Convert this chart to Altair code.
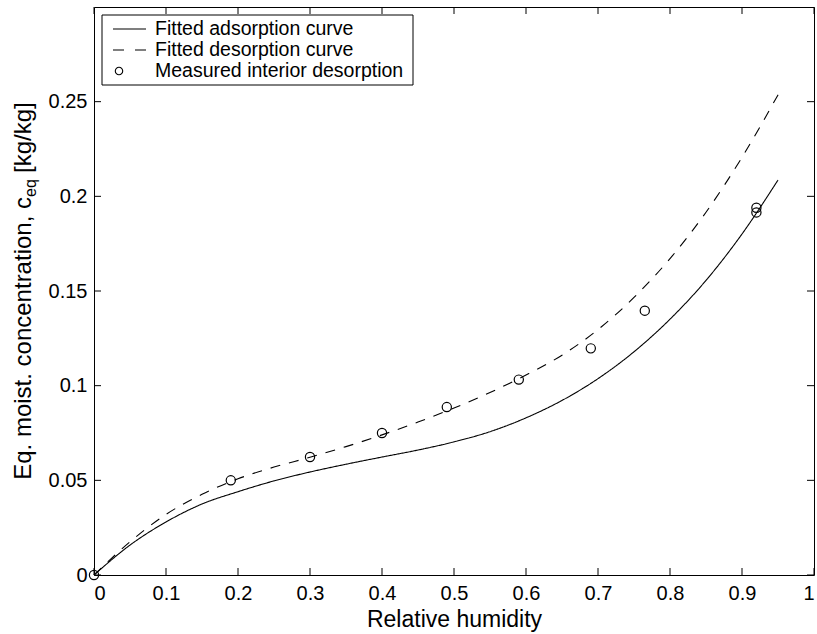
import altair as alt
import pandas as pd

# ---- data ----
rh_fit = [0.00, 0.05, 0.10, 0.15, 0.20, 0.25, 0.30, 0.35, 0.40, 0.45,
          0.50, 0.55, 0.60, 0.65, 0.70, 0.75, 0.80, 0.85, 0.90, 0.95]
adsorption = [0.0, 0.0158, 0.0280, 0.0375, 0.0440, 0.0497, 0.0544, 0.0585, 0.0623, 0.0660,
              0.0703, 0.0757, 0.0830, 0.0922, 0.1037, 0.1179, 0.1351, 0.1556, 0.1801, 0.2086]
desorption = [0.0, 0.0175, 0.0320, 0.0426, 0.0508, 0.0570, 0.0622, 0.0678, 0.0740, 0.0808,
              0.0882, 0.0964, 0.1056, 0.1161, 0.1296, 0.1466, 0.1671, 0.1916, 0.2206, 0.2536]
meas_rh = [0.0, 0.19, 0.30, 0.40, 0.49, 0.59, 0.69, 0.765, 0.92, 0.92]
meas_c = [0.0, 0.0500, 0.0623, 0.0750, 0.0887, 0.1032, 0.1197, 0.1396, 0.1940, 0.1915]
x_ticks = [0, 0.1, 0.2, 0.3, 0.4, 0.5, 0.6, 0.7, 0.8, 0.9, 1]
y_ticks = [0, 0.05, 0.1, 0.15, 0.2, 0.25]
legend_labels = ["Fitted adsorption curve", "Fitted desorption curve", "Measured interior desorption"]
x_title = "Relative humidity"
y_title_main = "Eq. moist. concentration, c"
y_title_sub = "eq"
y_title_unit = "[kg/kg]"

W, H = 720, 568
FONT = "Liberation Sans"
TICK = 7

curves = pd.DataFrame({
    "rh": rh_fit + rh_fit,
    "c": adsorption + desorption,
    "series": [legend_labels[0]] * len(rh_fit) + [legend_labels[1]] * len(rh_fit),
})
meas = pd.DataFrame({"rh": meas_rh, "c": meas_c})
xt = pd.DataFrame({"rh": x_ticks})
yt = pd.DataFrame({"c": y_ticks})
one = pd.DataFrame({"k": [0]})

xs = alt.Scale(domain=[0, 1], nice=False, zero=False)
ys = alt.Scale(domain=[0, 0.3], nice=False, zero=False)
xa = alt.Axis(values=x_ticks, format="~g", title=x_title, labelPadding=8, titlePadding=5)
ya = alt.Axis(values=y_ticks, format="~g", title=None, labelPadding=7)
X = alt.X("rh:Q", scale=xs, axis=xa)
Y = alt.Y("c:Q", scale=ys, axis=ya)

lines = alt.Chart(curves).mark_line(color="black", strokeWidth=1.1, interpolate="monotone").encode(
    x=X, y=Y,
    strokeDash=alt.StrokeDash("series:N", scale=alt.Scale(domain=legend_labels[:2], range=[[1, 0], [10, 9]]),
                              legend=None),
)

points = alt.Chart(meas).mark_point(shape="circle", filled=False, color="black", opacity=1,
                                    size=85, strokeWidth=1.2).encode(x=X, y=Y)

# inward ticks on all four sides
tb = alt.Chart(xt).mark_rule(color="black", strokeWidth=1).encode(
    x=X, y=alt.value(H), y2=alt.value(H - TICK))
tt = alt.Chart(xt).mark_rule(color="black", strokeWidth=1).encode(
    x=X, y=alt.value(0), y2=alt.value(TICK))
tl = alt.Chart(yt).mark_rule(color="black", strokeWidth=1).encode(
    y=Y, x=alt.value(0), x2=alt.value(TICK))
tr = alt.Chart(yt).mark_rule(color="black", strokeWidth=1).encode(
    y=Y, x=alt.value(W), x2=alt.value(W - TICK))

# y title with subscript
TS = 24
J = 190
t1 = alt.Chart(pd.DataFrame({"s": [y_title_main]})).mark_text(
    angle=270, align="right", baseline="alphabetic", font=FONT, fontSize=TS, color="black").encode(
    text="s:N", x=alt.value(-63), y=alt.value(J))
t2 = alt.Chart(pd.DataFrame({"s": [y_title_sub]})).mark_text(
    angle=270, align="left", baseline="alphabetic", font=FONT, fontSize=16, color="black").encode(
    text="s:N", x=alt.value(-58), y=alt.value(J))
t3 = alt.Chart(pd.DataFrame({"s": [y_title_unit]})).mark_text(
    angle=270, align="left", baseline="alphabetic", font=FONT, fontSize=TS, color="black").encode(
    text="s:N", x=alt.value(-63), y=alt.value(J - 18 - 6))

# legend box
lbox = alt.Chart(one).mark_rect(fill="white", stroke="black", strokeWidth=1).encode(
    x=alt.value(8), x2=alt.value(319), y=alt.value(8), y2=alt.value(78))
rows = [22, 43, 64]
l1 = alt.Chart(one).mark_rule(color="black", strokeWidth=1.1).encode(
    x=alt.value(19), x2=alt.value(52), y=alt.value(rows[0]))
l2 = alt.Chart(one).mark_rule(color="black", strokeWidth=1.1, strokeDash=[11, 11]).encode(
    x=alt.value(19), x2=alt.value(52), y=alt.value(rows[1]))
l3 = alt.Chart(one).mark_point(shape="circle", filled=False, color="black", opacity=1,
                               size=55, strokeWidth=1.1).encode(x=alt.value(25), y=alt.value(rows[2]))
ltxt = []
for lab, ry in zip(legend_labels, rows):
    ltxt.append(alt.Chart(pd.DataFrame({"s": [lab]})).mark_text(
        align="left", baseline="middle", font=FONT, fontSize=19.5, color="black").encode(
        text="s:N", x=alt.value(61), y=alt.value(ry)))

chart = alt.layer(lines, points, tb, tt, tl, tr, t1, t2, t3, lbox, l1, l2, l3, *ltxt).properties(
    width=W, height=H,
    padding={"left": 94, "top": 7, "right": 3, "bottom": 59},
    autosize=alt.AutoSizeParams(type="none"),
    background="white",
).configure_view(stroke="black", strokeWidth=1).configure_axis(
    domain=False, ticks=False, grid=False,
    labelFont=FONT, labelFontSize=20, labelColor="black",
    titleFont=FONT, titleFontSize=23, titleFontWeight="normal", titleColor="black",
)

chart.save("out.html", embed_options={"renderer": "svg", "actions": False})
